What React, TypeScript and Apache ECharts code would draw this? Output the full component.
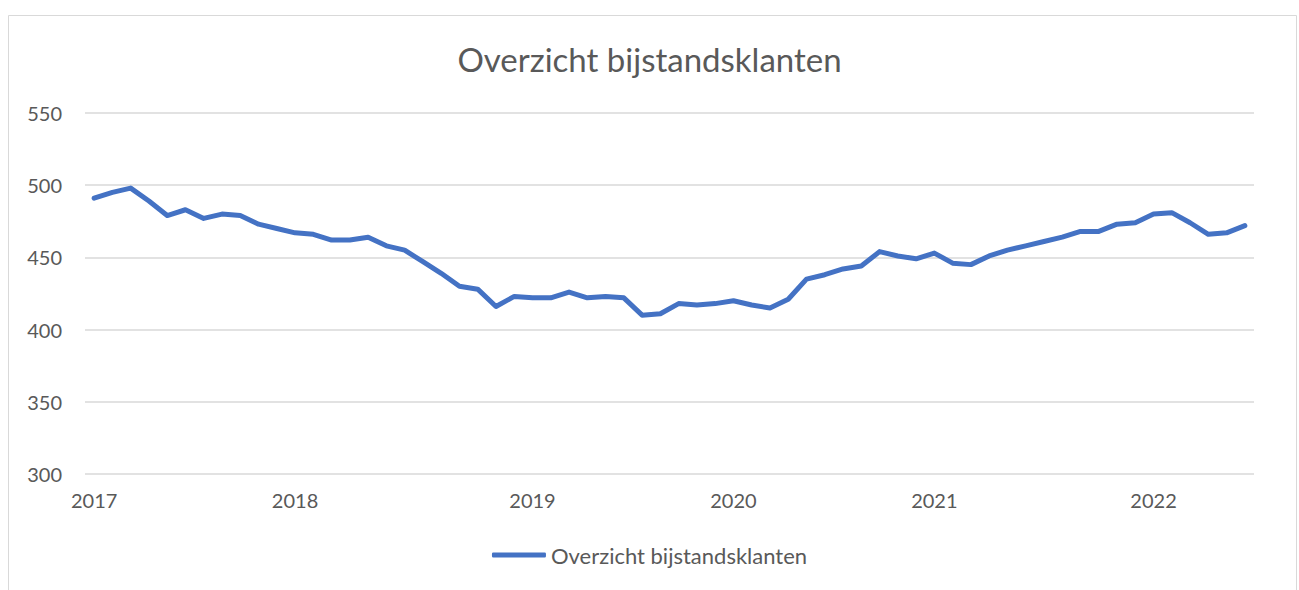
import React, { useEffect, useRef } from "react";
import * as echarts from "echarts";

const seriesName = "Overzicht bijstandsklanten";
const yearLabels = ["2017", "2018", "2019", "2020", "2021", "2022"];
const yearStartIndex = [0, 11, 24, 35, 46, 58];
const values = [
  491, 495, 498, 489, 479, 483, 477, 480, 479, 473, 470, 467, 466, 462, 462, 464,
  458, 455, 447, 439, 430, 428, 416, 423, 422, 422, 426, 422, 423, 422, 410, 411,
  418, 417, 418, 420, 417, 415, 421, 435, 438, 442, 444, 454, 451, 449, 453, 446,
  445, 451, 455, 458, 461, 464, 468, 468, 473, 474, 480, 481, 474, 466, 467, 472,
];
const yTicks = [300, 350, 400, 450, 500, 550];

const categories = values.map((_, i) => {
  const k = yearStartIndex.indexOf(i);
  return k >= 0 ? yearLabels[k] : "";
});

export default function App() {
  const ref = useRef<HTMLDivElement>(null);
  useEffect(() => {
    if (!ref.current) return;
    const chart = echarts.init(ref.current, undefined, { renderer: "svg" });
    const font = "Lato, 'Open Sans', sans-serif";
    chart.setOption({
      animation: false,
      backgroundColor: "#ffffff",
      textStyle: { fontFamily: font },
      title: {
        text: seriesName,
        left: "center",
        top: 37,
        textStyle: { fontFamily: font, fontSize: 33, fontWeight: "normal", color: "#595959" },
      },
      graphic: [
        {
          type: "rect",
          shape: { x: 8.5, y: 15.5, width: 1288, height: 620 },
          style: { fill: "none", stroke: "#d9d9d9", lineWidth: 1 },
          silent: true,
        },
      ],
      legend: {
        bottom: 19,
        left: "center",
        icon: "roundRect",
        itemWidth: 54,
        itemHeight: 5,
        itemGap: 10,
        textStyle: { fontFamily: font, fontSize: 22, color: "#595959" },
        data: [seriesName],
      },
      grid: { left: 85, right: 45, top: 113, bottom: 116, containLabel: false },
      xAxis: {
        type: "category",
        data: categories,
        boundaryGap: true,
        axisLine: { show: false },
        axisTick: { show: false },
        axisLabel: {
          interval: (idx: number) => yearStartIndex.includes(idx),
          color: "#595959",
          fontSize: 20,
          fontFamily: font,
          margin: 16,
        },
      },
      yAxis: {
        type: "value",
        min: yTicks[0],
        max: yTicks[yTicks.length - 1],
        interval: 50,
        axisLine: { show: false },
        axisTick: { show: false },
        splitLine: { lineStyle: { color: "#d9d9d9", width: 1.5 } },
        axisLabel: { color: "#595959", fontSize: 20, fontFamily: font, margin: 23 },
      },
      series: [
        {
          name: seriesName,
          type: "line",
          data: values,
          symbol: "none",
          lineStyle: { color: "#4472C4", width: 5, cap: "round", join: "round" },
          itemStyle: { color: "#4472C4" },
        },
      ],
    });
    return () => chart.dispose();
  }, []);
  return (
    <div
      ref={ref}
      style={{ position: "absolute", left: 0, top: 0, width: 1299, height: 590 }}
    />
  );
}
